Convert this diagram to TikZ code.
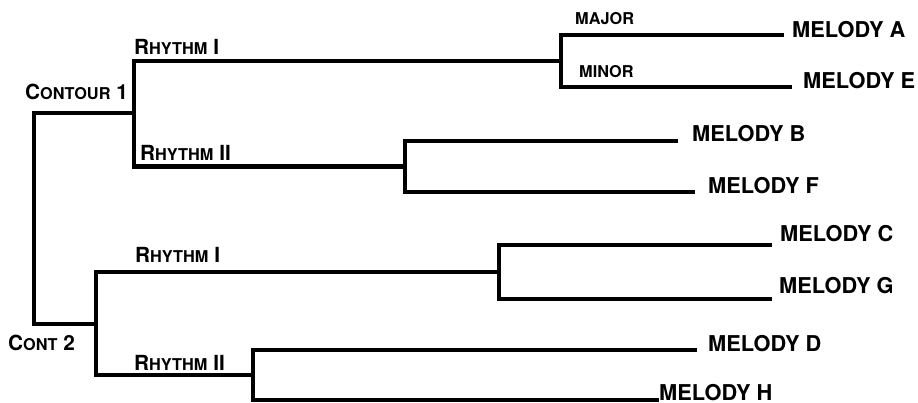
\documentclass[tikz,border=0pt]{standalone}
\usepackage{fontspec}
\setmainfont{TeX Gyre Heros}
% hand-made small capitals: a full-size initial, smaller capitals after it
\newcommand{\capsbig}{\fontsize{20.8}{22}\selectfont}
\newcommand{\capssmall}{\fontsize{16.3}{18}\selectfont}
\newcommand{\fakesc}[3]{{\bfseries\capsbig #1\capssmall #2\capsbig #3}}
\begin{document}
\begin{tikzpicture}[x=1pt,y=-1pt,
  branch/.style={line width=4.2pt,line join=miter,line cap=butt},
  leaf/.style={anchor=base west,inner sep=0pt,font=\bfseries\fontsize{21.8}{24}\selectfont},
  group/.style={anchor=base west,inner sep=0pt},
  mode/.style={anchor=base west,inner sep=0pt,font=\bfseries\fontsize{16.3}{18}\selectfont}]
\useasboundingbox[fill=white] (0,0) rectangle (918,403);

% junctions (vertical bars, at the middle of each bracket)
\coordinate (j0)  at (34,218);
\coordinate (jC1) at (134,113);
\coordinate (jC2) at (96,324);
\coordinate (jR1) at (561,61);
\coordinate (jR2) at (405,166.5);
\coordinate (jR3) at (499,272);
\coordinate (jR4) at (253,375);

% free ends of the leaf branches
\coordinate (eA) at (784,35);
\coordinate (eE) at (792,87);
\coordinate (eB) at (678,141);
\coordinate (eF) at (695,192);
\coordinate (eC) at (772,245);
\coordinate (eG) at (772,299);
\coordinate (eD) at (697,350);
\coordinate (eH) at (659,400);

% tree
\draw[branch] (jC1) -| (j0) |- (jC2);
\draw[branch] (jR1) -| (jC1) |- (jR2);
\draw[branch] (jR3) -| (jC2) |- (jR4);
\draw[branch] (eA) -| (jR1) |- (eE);
\draw[branch] (eB) -| (jR2) |- (eF);
\draw[branch] (eC) -| (jR3) |- (eG);
\draw[branch] (eD) -| (jR4) |- (eH);

% leaves
\node[leaf] (tA) at (792,37.3) {MELODY A};
\node[leaf] (tE) at (803,88.3) {MELODY E};
\node[leaf] (tB) at (692,141.7) {MELODY B};
\node[leaf] (tF) at (708,194) {MELODY F};
\node[leaf] (tC) at (780,241.7) {MELODY C};
\node[leaf] (tG) at (779,294) {MELODY G};
\node[leaf] (tD) at (708,351.7) {MELODY D};
\node[leaf] (tH) at (659,400) {MELODY H};

% branch labels
\node[group] (lC1) at (25,100) {\fakesc{C}{ONTOUR}{ 1}};
\node[group] (lC2) at (8,350.5) {\fakesc{C}{ONT}{ 2}};
\node[group] (lR1) at (134,55) {\fakesc{R}{HYTHM}{ I}};
\node[group] (lR2) at (140,161) {\fakesc{R}{HYTHM}{ II}};
\node[group] (lR3) at (135,263) {\fakesc{R}{HYTHM}{ I}};
\node[group] (lR4) at (134,370) {\fakesc{R}{HYTHM}{ II}};
\node[mode] (lMaj) at (575,25) {MAJOR};
\node[mode] (lMin) at (579,78) {MINOR};
\end{tikzpicture}
\end{document}
